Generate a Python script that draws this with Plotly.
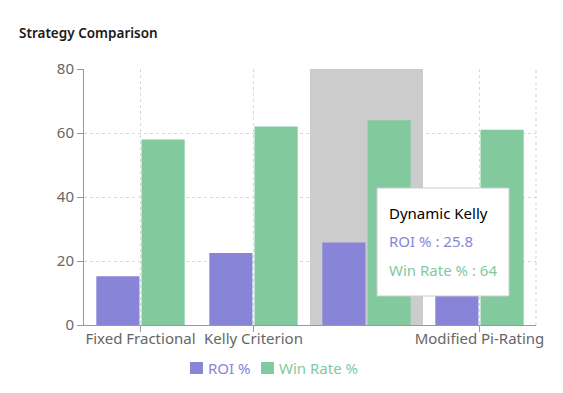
import plotly.graph_objects as go

categories = ["Fixed Fractional", "Kelly Criterion", "Dynamic Kelly", "Modified Pi-Rating"]
roi = [15.2, 22.5, 25.8, 18.0]
win_rate = [58, 62, 64, 61]
shown_ticks = ["Fixed Fractional", "Kelly Criterion", "Modified Pi-Rating"]
y_ticks = [0, 20, 40, 60, 80]

ROI_C = "#8884d8"
WIN_C = "#82ca9d"
FONT = "Noto Sans"
FS = 15

W, H = 563, 393
L, R, T, B = 84, 536, 69, 325
pw, ph = R - L, B - T

def px(x):
    return (x - L) / pw

def py(y):
    return (B - y) / ph

fig = go.Figure()
fig.add_trace(go.Bar(x=categories, y=roi, name="ROI %", marker=dict(color=ROI_C, line=dict(width=0))))
fig.add_trace(go.Bar(x=categories, y=win_rate, name="Win Rate %", marker=dict(color=WIN_C, line=dict(width=0))))

shapes = []
shapes.append(dict(type="rect", xref="x", yref="y", x0=1.5, x1=2.5, y0=0, y1=80,
                   fillcolor="#cccccc", line=dict(width=0), layer="between"))
shapes.append(dict(type="line", xref="paper", yref="paper", x0=1, x1=1, y0=0, y1=1,
                   line=dict(color="#d0d0d0", width=1, dash="3px,3px"), layer="below"))
shapes.append(dict(type="rect", xref="paper", yref="paper", x0=px(377), x1=px(509), y0=py(296), y1=py(188),
                   fillcolor="white", line=dict(color="#cccccc", width=1), layer="above"))
shapes.append(dict(type="rect", xref="paper", yref="paper", x0=px(190), x1=px(203), y0=py(374), y1=py(362),
                   fillcolor=ROI_C, line=dict(width=0)))
shapes.append(dict(type="rect", xref="paper", yref="paper", x0=px(261), x1=px(274), y0=py(374), y1=py(362),
                   fillcolor=WIN_C, line=dict(width=0)))

ann = []
ann.append(dict(text="Strategy Comparison", xref="paper", yref="paper", x=px(17), y=py(33),
                xanchor="left", yanchor="middle", showarrow=False,
                font=dict(family=FONT, size=13.5, color="#1a1a1a", weight=600)))
ann.append(dict(text=categories[2], xref="paper", yref="paper", x=px(387), y=py(213),
                xanchor="left", yanchor="middle", showarrow=False, font=dict(family=FONT, size=FS, color="#000")))
ann.append(dict(text=f"ROI % : {roi[2]}", xref="paper", yref="paper", x=px(387), y=py(241),
                xanchor="left", yanchor="middle", showarrow=False, font=dict(family=FONT, size=FS, color=ROI_C)))
ann.append(dict(text=f"Win Rate % : {win_rate[2]}", xref="paper", yref="paper", x=px(387), y=py(270),
                xanchor="left", yanchor="middle", showarrow=False, font=dict(family=FONT, size=FS, color=WIN_C)))
ann.append(dict(text="ROI %", xref="paper", yref="paper", x=px(206), y=py(368),
                xanchor="left", yanchor="middle", showarrow=False, font=dict(family=FONT, size=FS, color=ROI_C)))
ann.append(dict(text="Win Rate %", xref="paper", yref="paper", x=px(277), y=py(368),
                xanchor="left", yanchor="middle", showarrow=False, font=dict(family=FONT, size=FS, color=WIN_C)))

fig.update_layout(
    width=W, height=H,
    margin=dict(l=L, r=W - R, t=T, b=H - B, pad=0),
    paper_bgcolor="white", plot_bgcolor="white",
    barmode="group", bargap=0.2, bargroupgap=0.045,
    showlegend=False,
    shapes=shapes, annotations=ann,
    font=dict(family=FONT, size=FS, color="#666"),
    xaxis=dict(type="category", range=[-0.5, 3.5], tickmode="array", tickvals=shown_ticks, ticktext=shown_ticks,
               showline=True, linecolor="#999", linewidth=1, ticks="outside", ticklen=6, tickcolor="#999",
               ticklabelstandoff=-6,
               showgrid=True, gridcolor="#d8d8d8", griddash="3px,3px", gridwidth=1,
               tickfont=dict(family=FONT, size=FS, color="#666"), zeroline=False, fixedrange=True),
    yaxis=dict(range=[0, 80], tickmode="array", tickvals=y_ticks,
               showline=True, linecolor="#999", linewidth=1, ticks="outside", ticklen=6, tickcolor="#999",
               showgrid=True, gridcolor="#d8d8d8", griddash="3px,3px", gridwidth=1, zeroline=False,
               tickfont=dict(family=FONT, size=FS, color="#666"), fixedrange=True),
)

fig.write_html("out.html", config=dict(displayModeBar=False),
               post_script="document.body.style.margin='0px';document.body.style.padding='0px';")
